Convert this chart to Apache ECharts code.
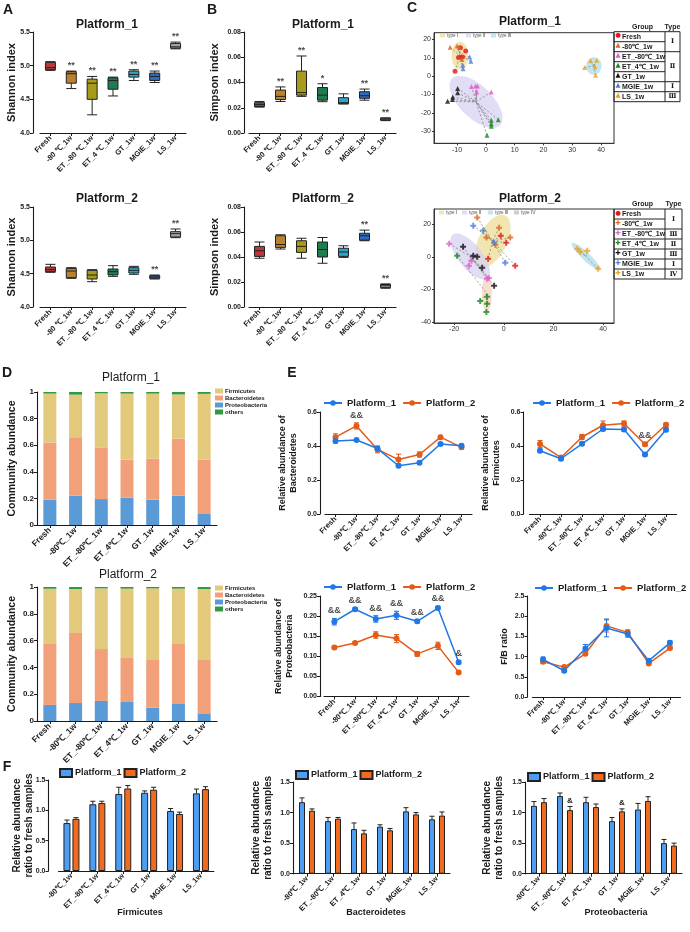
<!DOCTYPE html>
<html>
<head>
<meta charset="utf-8">
<script src="https://cdn.jsdelivr.net/npm/echarts@6/dist/echarts.min.js"></script>
<style>
html,body{margin:0;padding:0;background:#fff;}
.layer{position:absolute;left:0;top:0;width:690px;height:932px;}
</style>
</head>
<body>
<div id="ab" class="layer"></div>
<div id="c" class="layer"></div>
<div id="d" class="layer"></div>
<div id="e" class="layer"></div>
<div id="f" class="layer"></div>
<script>
// ---------- data ----------
const catsAB = ['Fresh', '-80 ℃_1w', 'ET_-80 ℃_1w', 'ET_4 ℃_1w', 'GT_1w', 'MGIE_1w', 'LS_1w'];
const cats = ['Fresh', '-80℃_1w', 'ET_-80℃_1w', 'ET_4℃_1w', 'GT_1w', 'MGIE_1w', 'LS_1w'];
const catsF = ['-80℃_1w', 'ET_-80℃_1w', 'ET_4℃_1w', 'GT_1w', 'MGIE_1w', 'LS_1w'];
const boxColors = ['#b8393b', '#b9822f', '#a89b1a', '#1e7d4f', '#2aa6c8', '#2e6bbd', '#a3a3a3'];

// box plots: [min, Q1, median, Q3, max]
const shannon1 = [[4.93, 4.94, 4.97, 5.05, 5.06], [4.66, 4.74, 4.88, 4.91, 4.92], [4.27, 4.50, 4.74, 4.80, 4.84],
  [4.55, 4.65, 4.78, 4.82, 4.83], [4.78, 4.83, 4.87, 4.92, 4.94], [4.75, 4.78, 4.84, 4.89, 4.92], [5.25, 5.26, 5.28, 5.33, 5.35]];
const shannon2 = [[4.52, 4.53, 4.56, 4.60, 4.64], [4.43, 4.44, 4.54, 4.58, 4.59], [4.38, 4.42, 4.48, 4.55, 4.56],
  [4.46, 4.48, 4.53, 4.57, 4.62], [4.49, 4.51, 4.55, 4.59, 4.61], [4.42, 4.43, 4.45, 4.47, 4.48], [5.04, 5.05, 5.10, 5.13, 5.17]];
const simpson1 = [[0.0205, 0.021, 0.0225, 0.024, 0.025], [0.025, 0.0265, 0.029, 0.034, 0.0365], [0.029, 0.030, 0.032, 0.049, 0.061],
  [0.0248, 0.026, 0.030, 0.036, 0.039], [0.023, 0.0232, 0.024, 0.028, 0.031], [0.026, 0.0275, 0.0295, 0.0327, 0.0348], [0.0098, 0.0102, 0.011, 0.0117, 0.012]];
const simpson2 = [[0.039, 0.0405, 0.045, 0.0485, 0.052], [0.0464, 0.0477, 0.050, 0.057, 0.0578], [0.039, 0.0437, 0.0485, 0.053, 0.055],
  [0.035, 0.040, 0.046, 0.052, 0.0556], [0.0397, 0.0405, 0.044, 0.047, 0.049], [0.053, 0.0535, 0.057, 0.059, 0.0615], [0.015, 0.0155, 0.017, 0.018, 0.0185]];
const shannonStars1 = ['', '**', '**', '**', '**', '**', '**'];
const shannonStars2 = ['', '', '', '', '', '**', '**'];
const simpsonStars1 = ['', '**', '**', '*', '', '**', '**'];
const simpsonStars2 = ['', '', '', '', '', '**', '**'];

// PCoA points
const pcoaGroups = ['Fresh', '-80℃_1w', 'ET_-80℃_1w', 'ET_4℃_1w', 'GT_1w', 'MGIE_1w', 'LS_1w'];
const pcoaColors = ['#e8141c', '#e0641e', '#e060d0', '#1a8a1a', '#111111', '#4a7ee0', '#f0a020'];
const c1Fresh = [[-8.8, 15.5], [-7, 13.7], [-8.1, 10.5], [-9.5, 10.2], [-10.7, 2.7]];
const c1M80 = [[-12.4, 15.7], [-10, 16.4], [-9.3, 15.7], [-8.3, 9.1]];
const c1ET80 = [[-5, -5.6], [-3.6, -5.3], [-2.9, -5.3], [-3.2, -8.6], [1.9, -8.6]];
const c1ET4 = [[1.9, -24], [1.9, -25.9], [1.9, -27.3], [4.3, -23.7], [0.4, -32.2]];
const c1GT = [[-9.8, -6.7], [-9.8, -9.1], [-11.5, -11.3], [-11.6, -12.7], [-13.3, -13.7]];
const c1MGIE = [[-5.6, 10.5], [-5.2, 8.2], [-8, 6], [-7.9, 4]];
const c1LS = [[34.3, 4.7], [36.4, 8.4], [38.5, 8.7], [37.9, 5.1], [38.1, 0.5]];
const c2Fresh = [[-6.3, -1.2], [1, 8.6], [4.6, -5.5], [-1.2, 12.9]];
const c2M80 = [[-10.7, 24], [-7, 11.7], [-1.9, 17.8], [2.6, 11.7], [-3.4, 7.4]];
const c2ET80 = [[-22, 8], [-13, -2.5], [-14, -5.5], [-6, -13], [-6.8, -13.5]];
const c2ET4 = [[-18.8, 0.6], [-6.7, -24.5], [-6.7, -28.8], [-9.5, -27], [-7, -33.7]];
const c2GT = [[-16.4, 6.1], [-12.3, 0.6], [-10.7, 0], [-8.7, -6.7], [-3.9, -17.8]];
const c2MGIE = [[-12.3, 19], [-8.3, 16], [-3.9, 8.6], [0.6, -3.7]];
const c2LS = [[29.6, 4.9], [30.8, 3.1], [33.6, 3.7], [38, -7.4]];
// ellipses: [cx, cy, ux, uy, vx, vy] in data units
const ell1 = [[-9, 11.2, 0, 7.6, 2.9, 0], [-3.4, -14, 8.3, -12.75, 4.0, 6.2], [37.5, 5.6, 0, 4.8, 2.7, 0]];
const ell2 = [[-4.45, 9.6, 5.05, 15.6, 5.1, -3.8], [-13.5, 0.2, 7.05, -13.3, 3.75, 4.6], [33.1, 0.2, 5.7, -8.2, 1.1, 1.8], [-6.8, -22.3, 0, 11.2, 2, 0]];
const ellColors = ['rgba(236,222,150,0.75)', 'rgba(214,210,242,0.75)', 'rgba(178,224,236,0.8)', 'rgba(246,212,196,0.8)'];
const link1 = [0, 0, 1, 1, 1, 0, 2];
const link2 = [0, 0, 1, 3, 1, 0, 2];
const types1 = [['Ⅰ', 0, 1], ['Ⅱ', 2, 4], ['Ⅰ', 5, 5], ['Ⅲ', 6, 6]];
const types2 = [['Ⅰ', 0, 1], ['Ⅲ', 2, 2], ['Ⅱ', 3, 3], ['Ⅲ', 4, 4], ['Ⅰ', 5, 5], ['Ⅳ', 6, 6]];

// community composition
const phyla = ['Firmicutes', 'Bacteroidetes', 'Proteobacteria', 'others'];
const phylaColors = ['#e3c97b', '#f2a07a', '#5a9ad6', '#2f9a3f'];
const d1Prot = [0.19, 0.22, 0.195, 0.205, 0.19, 0.22, 0.083];
const d1Bact = [0.43, 0.44, 0.385, 0.285, 0.31, 0.43, 0.407];
const d1Firm = [0.368, 0.32, 0.41, 0.498, 0.488, 0.332, 0.496];
const d1Other = [0.012, 0.02, 0.01, 0.012, 0.012, 0.018, 0.014];
const d2Prot = [0.12, 0.134, 0.15, 0.142, 0.10, 0.127, 0.057];
const d2Bact = [0.455, 0.523, 0.387, 0.328, 0.355, 0.453, 0.398];
const d2Firm = [0.412, 0.328, 0.453, 0.518, 0.535, 0.408, 0.53];
const d2Other = [0.013, 0.015, 0.01, 0.012, 0.01, 0.012, 0.015];

// relative abundance lines (mean, error)
const bactP1 = [0.430, 0.435, 0.385, 0.284, 0.302, 0.412, 0.402];
const bactP1e = [0.012, 0.008, 0.01, 0.01, 0.008, 0.008, 0.008];
const bactP2 = [0.452, 0.518, 0.380, 0.320, 0.350, 0.452, 0.392];
const bactP2e = [0.02, 0.018, 0.02, 0.032, 0.015, 0.01, 0.01];
const bactAnn = ['', '&&', '', '', '', '', ''];
const firmP1 = [0.372, 0.325, 0.413, 0.500, 0.497, 0.350, 0.495];
const firmP1e = [0.01, 0.01, 0.01, 0.01, 0.01, 0.008, 0.01];
const firmP2 = [0.412, 0.332, 0.453, 0.522, 0.532, 0.410, 0.525];
const firmP2e = [0.02, 0.008, 0.015, 0.025, 0.015, 0.01, 0.01];
const firmAnn = ['', '', '', '', '', '&&', ''];
const protP1 = [0.186, 0.217, 0.193, 0.202, 0.187, 0.220, 0.085];
const protP1e = [0.008, 0.003, 0.008, 0.01, 0.004, 0.004, 0.004];
const protP2 = [0.122, 0.133, 0.153, 0.144, 0.106, 0.126, 0.060];
const protP2e = [0.004, 0.003, 0.008, 0.01, 0.006, 0.009, 0.003];
const protAnn = ['&&', '&&', '&&', '&&', '&&', '&&', '&'];
const fbP1 = [0.93, 0.65, 1.20, 1.71, 1.56, 0.90, 1.34];
const fbP1e = [0.06, 0.03, 0.10, 0.22, 0.08, 0.03, 0.05];
const fbP2 = [0.87, 0.74, 1.07, 1.76, 1.60, 0.83, 1.21];
const fbP2e = [0.04, 0.02, 0.04, 0.15, 0.06, 0.03, 0.04];
const fbAnn = ['', '', '', '', '', '', ''];

// ratio to fresh samples
const rFirmP1 = [0.79, 1.10, 1.27, 1.29, 0.99, 1.28];
const rFirmP1e = [0.05, 0.05, 0.11, 0.03, 0.04, 0.07];
const rFirmP2 = [0.86, 1.12, 1.36, 1.34, 0.94, 1.35];
const rFirmP2e = [0.02, 0.03, 0.05, 0.04, 0.03, 0.04];
const rBactP1 = [1.17, 0.86, 0.73, 0.77, 1.02, 0.89];
const rBactP1e = [0.07, 0.06, 0.10, 0.03, 0.06, 0.05];
const rBactP2 = [1.03, 0.90, 0.66, 0.71, 0.97, 0.95];
const rBactP2e = [0.03, 0.02, 0.05, 0.03, 0.03, 0.06];
const rProtP1 = [1.11, 1.27, 1.17, 0.86, 1.05, 0.50];
const rProtP1e = [0.07, 0.05, 0.08, 0.06, 0.10, 0.06];
const rProtP2 = [1.17, 1.04, 1.09, 1.02, 1.19, 0.46];
const rProtP2e = [0.06, 0.06, 0.05, 0.04, 0.07, 0.04];
const rProtAnn = ['', '&', '', '&', '', ''];
const noAnn = ['', '', '', '', '', ''];

// ---------- helpers ----------
const FONT = '"Liberation Sans", Arial, sans-serif';
const INK = '#1a1a1a';
const BLUE = '#1f78e6', ORANGE = '#e45a17';
const BAR1 = '#4d9ef2', BAR2 = '#f36a1f';

function txt(x, y, text, size, o) {
  o = o || {};
  return {type: 'text', x: x, y: y, silent: true, style: {text: text, fontSize: size, fontFamily: o.family || FONT,
    fontWeight: o.weight || 'bold', fill: o.color || INK, align: o.align || 'center', verticalAlign: 'middle',
    textAlign: o.align || 'center', textVerticalAlign: 'middle'}};
}
function hline(x1, y1, x2, y2, w) {
  return {type: 'line', silent: true, shape: {x1: x1, y1: y1, x2: x2, y2: y2}, style: {stroke: '#222', lineWidth: w || 1}};
}
function catAxis(gi, data, fs) {
  return {gridIndex: gi, type: 'category', data: data,
    axisLine: {show: true, lineStyle: {color: INK, width: 1.1}},
    axisTick: {show: true, alignWithLabel: true, length: 3, lineStyle: {color: INK}},
    axisLabel: {interval: 0, rotate: 45, fontSize: fs, fontWeight: 'bold', color: INK, margin: 4, fontFamily: FONT},
    splitLine: {show: false}};
}
function valAxis(gi, o) {
  return {gridIndex: gi, type: 'value', min: o.min, max: o.max, interval: o.step, offset: o.offset || 0,
    name: o.name, nameLocation: 'middle', nameGap: o.gap, nameMoveOverlap: false,
    nameTextStyle: {fontSize: o.nameSize, fontWeight: 'bold', color: INK, fontFamily: FONT, lineHeight: o.nameSize + 2},
    axisLine: {show: true, lineStyle: {color: INK, width: 1.1}},
    axisTick: {show: true, length: 3, lineStyle: {color: INK}},
    axisLabel: {fontSize: o.labelSize || 7, fontWeight: 'bold', color: INK, margin: 3, fontFamily: FONT, formatter: o.fmt},
    splitLine: {show: false}};
}
function gridAt(l, t, w, h) {
  return {left: l, top: t, width: w, height: h, outerBoundsMode: 'none', containLabel: false};
}

// ---------- A / B : box plots ----------
(function () {
  const grid = [], xAxis = [], yAxis = [], series = [];
  function boxPanel(gi, box, o, data, stars) {
    grid.push(gridAt(box[0], box[1], box[2], box[3]));
    xAxis.push(catAxis(gi, catsAB, 7.5));
    yAxis.push(valAxis(gi, o));
    series.push({type: 'boxplot', xAxisIndex: gi, yAxisIndex: gi, boxWidth: [10, 10],
      itemStyle: {borderColor: '#222', borderWidth: 1},
      data: data.map((d, i) => ({value: d, itemStyle: {color: boxColors[i]}}))});
    series.push({type: 'scatter', xAxisIndex: gi, yAxisIndex: gi, symbolSize: 0, silent: true,
      data: data.map((d, i) => [i, d[4]]),
      label: {show: true, position: 'top', distance: 1, fontSize: 9, fontWeight: 'bold', color: INK, fontFamily: FONT,
        formatter: p => stars[p.dataIndex]}});
  }
  const sh = {min: 4, max: 5.5, step: 0.5, offset: 7, name: 'Shannon index', gap: 15, nameSize: 11, fmt: v => v.toFixed(1)};
  const si = {min: 0, max: 0.08, step: 0.02, offset: 5, name: 'Simpson index', gap: 23, nameSize: 11, fmt: v => v.toFixed(2)};
  boxPanel(0, [40, 32, 146, 101], sh, shannon1, shannonStars1);
  boxPanel(1, [40, 207, 146, 100], sh, shannon2, shannonStars2);
  boxPanel(2, [249, 32, 147, 101], si, simpson1, simpsonStars1);
  boxPanel(3, [249, 207, 147, 100], si, simpson2, simpsonStars2);
  echarts.init(document.getElementById('ab')).setOption({
    animation: false, textStyle: {fontFamily: FONT}, grid, xAxis, yAxis, series,
    graphic: [txt(107, 25, 'Platform_1', 12), txt(107, 199, 'Platform_2', 12),
      txt(323, 25, 'Platform_1', 12), txt(323, 199, 'Platform_2', 12)]
  });
})();

// ---------- C : PCoA ----------
(function () {
  const grid = [], xAxis = [], yAxis = [], series = [], graphic = [];
  const plus = 'path://M2,0h2v2h2v2h-2v2h-2v-2h-2v-2h2z';
  function axisC(gi, min, max, split, step) {
    return {gridIndex: gi, type: 'value', min: min, max: max, splitNumber: split,
      axisLine: {show: true, onZero: false, lineStyle: {color: '#333', width: 1}},
      axisTick: {show: true, length: 2, lineStyle: {color: '#333'}},
      axisLabel: {fontSize: 7, color: '#333', margin: 3, fontFamily: FONT, showMinLabel: false, showMaxLabel: false,
        formatter: v => (Math.abs(v % step) < 1e-6 ? String(v) : '')},
      splitLine: {show: false}};
  }
  function pcoa(gi, box, xr, yr, xs, ys, xstep, ystep, pts, ells, links, plusMark) {
    grid.push(Object.assign(gridAt(box[0], box[1], box[2], box[3]), {show: true, borderColor: '#333', borderWidth: 1}));
    xAxis.push(axisC(gi, xr[0], xr[1], xs, xstep));
    yAxis.push(axisC(gi, yr[0], yr[1], ys, ystep));
    series.push({type: 'custom', xAxisIndex: gi, yAxisIndex: gi, silent: true, z: 1, data: ells, encode: {x: 0, y: 1},
      renderItem: (p, api) => {
        const e = ells[p.dataIndex], poly = [];
        for (let k = 0; k < 72; k++) {
          const t = k / 72 * Math.PI * 2;
          poly.push(api.coord([e[0] + e[2] * Math.cos(t) + e[4] * Math.sin(t), e[1] + e[3] * Math.cos(t) + e[5] * Math.sin(t)]));
        }
        return {type: 'polygon', shape: {points: poly}, style: {fill: ellColors[p.dataIndex], stroke: null}};
      }});
    const spokes = [];
    pts.forEach((g, gi2) => {
      const e = ells[links[gi2]];
      g.forEach(pt => spokes.push([pt[0], pt[1], e[0], e[1]]));
    });
    series.push({type: 'custom', xAxisIndex: gi, yAxisIndex: gi, silent: true, z: 2, data: spokes, encode: {x: 0, y: 1},
      renderItem: (p, api) => {
        const a = api.coord([api.value(0), api.value(1)]), b = api.coord([api.value(2), api.value(3)]);
        return {type: 'line', shape: {x1: a[0], y1: a[1], x2: b[0], y2: b[1]}, style: {stroke: '#777', lineWidth: 0.7, lineDash: [2, 2]}};
      }});
    pts.forEach((g, k) => {
      series.push({type: 'scatter', xAxisIndex: gi, yAxisIndex: gi, z: 3, name: pcoaGroups[k], data: g,
        symbol: plusMark ? plus : (k === 0 ? 'circle' : 'triangle'), symbolSize: plusMark ? 6 : 5,
        itemStyle: {color: pcoaColors[k]}});
    });
  }
  pcoa(0, [434, 32.7, 180, 110.6], [-18, 44.5], [-36.6, 23.7], 5, 5, 10, 10,
    [c1Fresh, c1M80, c1ET80, c1ET4, c1GT, c1MGIE, c1LS], ell1, link1, false);
  pcoa(1, [434, 209, 180, 114], [-28.1, 44.4], [-40.5, 29.2], 3, 3, 20, 20,
    [c2Fresh, c2M80, c2ET80, c2ET4, c2GT, c2MGIE, c2LS], ell2, link2, true);

  function table(x0, y0, wG, wT, rh, glyphs, spans) {
    const h = rh * pcoaGroups.length;
    graphic.push(txt(x0 + wG / 2 + 3, y0 - 5, 'Group', 7));
    graphic.push(txt(x0 + wG + wT / 2, y0 - 5, 'Type', 7));
    graphic.push({type: 'rect', silent: true, shape: {x: x0, y: y0, width: wG + wT, height: h}, style: {fill: 'none', stroke: '#222', lineWidth: 1}});
    graphic.push(hline(x0 + wG, y0, x0 + wG, y0 + h));
    pcoaGroups.forEach((n, i) => {
      const cy = y0 + i * rh + rh / 2;
      if (i > 0) graphic.push(hline(x0, y0 + i * rh, x0 + wG, y0 + i * rh));
      graphic.push(txt(x0 + 4, cy - 1, glyphs[i], 6.5, {color: pcoaColors[i], family: 'DejaVu Sans'}));
      graphic.push(txt(x0 + 8, cy, n, 7, {align: 'left'}));
    });
    spans.forEach(s => {
      if (s[1] > 0) graphic.push(hline(x0 + wG, y0 + s[1] * rh, x0 + wG + wT, y0 + s[1] * rh));
      graphic.push(txt(x0 + wG + wT / 2, y0 + (s[1] + s[2] + 1) / 2 * rh, s[0], 6.5, {family: '"DejaVu Serif", serif'}));
    });
  }
  table(614, 31.7, 51, 15, 10, ['●', '▲', '▲', '▲', '▲', '▲', '▲'], types1);
  table(614, 209, 51, 17, 10, ['●', '✚', '✚', '✚', '✚', '✚', '✚'], types2);

  function typeKey(x, y, labels, colors) {
    labels.forEach((l, i) => {
      graphic.push({type: 'rect', silent: true, shape: {x: x[i], y: y - 2, width: 5, height: 4}, style: {fill: colors[i]}});
      graphic.push(txt(x[i] + 7, y, l, 4.5, {align: 'left', weight: 'normal', color: '#555'}));
    });
  }
  typeKey([440, 466, 491], 35.5, ['type Ⅰ', 'type Ⅱ', 'type Ⅲ'], [ellColors[0], ellColors[1], ellColors[2]]);
  typeKey([439, 462, 488, 514], 212.5, ['type Ⅰ', 'type Ⅱ', 'type Ⅲ', 'type Ⅳ'], [ellColors[0], ellColors[1], ellColors[2], '#cfcfcf']);
  graphic.push(txt(530, 22, 'Platform_1', 12), txt(530, 199, 'Platform_2', 12));

  echarts.init(document.getElementById('c')).setOption({
    animation: false, textStyle: {fontFamily: FONT}, grid, xAxis, yAxis, series, graphic
  });
})();

// ---------- D : community composition ----------
(function () {
  const grid = [], xAxis = [], yAxis = [], series = [], legend = [];
  const fmtD = v => (v === 0 || v === 1 ? String(v) : v.toFixed(1));
  function comp(gi, box, prot, bact, firm, other, legTop) {
    grid.push(gridAt(box[0], box[1], box[2], box[3]));
    xAxis.push(catAxis(gi, cats, 8.5));
    yAxis.push(valAxis(gi, {min: 0, max: 1, step: 0.2, name: 'Community abundance', gap: 19, nameSize: 10.5, labelSize: 8, fmt: fmtD}));
    [[prot, 2], [bact, 1], [firm, 0], [other, 3]].forEach(s => {
      series.push({type: 'bar', name: phyla[s[1]], xAxisIndex: gi, yAxisIndex: gi, stack: 'p' + gi, barWidth: 13,
        data: s[0], itemStyle: {color: phylaColors[s[1]]}});
    });
    legend.push({left: 215, top: legTop, orient: 'vertical', icon: 'rect', itemWidth: 8, itemHeight: 5, itemGap: 1, padding: 0,
      data: phyla, textStyle: {fontSize: 6, color: INK, fontWeight: 'bold', fontFamily: FONT, padding: [0, 0, 0, -3]}});
  }
  comp(0, [37, 392, 180, 133], d1Prot, d1Bact, d1Firm, d1Other, 388);
  comp(1, [37, 587, 180, 134], d2Prot, d2Bact, d2Firm, d2Other, 585);
  echarts.init(document.getElementById('d')).setOption({
    animation: false, textStyle: {fontFamily: FONT}, grid, xAxis, yAxis, series, legend,
    graphic: [txt(131, 378, 'Platform_1', 12, {weight: 'normal'}), txt(128, 575, 'Platform_2', 12, {weight: 'normal'})]
  });
})();

// ---------- E : relative abundance lines ----------
(function () {
  const grid = [], xAxis = [], yAxis = [], series = [], legend = [];
  function errBar(color) {
    return (p, api) => {
      const i = api.value(0), m = api.value(1), e = api.value(2);
      const t = api.coord([i, m + e]), b = api.coord([i, m - e]);
      const st = {stroke: color, lineWidth: 1.1};
      return {type: 'group', children: [
        {type: 'line', shape: {x1: t[0], y1: t[1], x2: b[0], y2: b[1]}, style: st},
        {type: 'line', shape: {x1: t[0] - 2.5, y1: t[1], x2: t[0] + 2.5, y2: t[1]}, style: st},
        {type: 'line', shape: {x1: b[0] - 2.5, y1: b[1], x2: b[0] + 2.5, y2: b[1]}, style: st}]};
    };
  }
  function linePanel(gi, box, o, p1, e1, p2, e2, ann, leg) {
    grid.push(gridAt(box[0], box[1], box[2], box[3]));
    xAxis.push(catAxis(gi, cats, 7.5));
    yAxis.push(valAxis(gi, o));
    [[p2, e2, ORANGE, 'Platform_2'], [p1, e1, BLUE, 'Platform_1']].forEach(s => {
      series.push({type: 'custom', xAxisIndex: gi, yAxisIndex: gi, silent: true, z: 2, encode: {x: 0, y: 1},
        data: s[0].map((v, i) => [i, v, s[1][i]]), renderItem: errBar(s[2])});
      series.push({type: 'line', name: s[3], xAxisIndex: gi, yAxisIndex: gi, z: 3, data: s[0], symbol: 'circle', symbolSize: 6,
        lineStyle: {color: s[2], width: 1.5}, itemStyle: {color: s[2]}});
    });
    series.push({type: 'scatter', xAxisIndex: gi, yAxisIndex: gi, symbolSize: 0, silent: true, z: 4,
      data: p1.map((v, i) => [i, Math.max(v + e1[i], p2[i] + e2[i])]),
      label: {show: true, position: 'top', distance: 3, fontSize: 9, fontWeight: 'bold', color: INK, fontFamily: FONT,
        formatter: p => ann[p.dataIndex]}});
    legend.push({left: leg[0], top: leg[1], itemWidth: 18, itemHeight: 7, itemGap: 6, padding: 0,
      data: ['Platform_1', 'Platform_2'], textStyle: {fontSize: 9.5, fontWeight: 'bold', color: INK, fontFamily: FONT}});
  }
  const f1 = v => v.toFixed(1), f2 = v => v.toFixed(2);
  linePanel(0, [325, 412, 147, 102], {min: 0, max: 0.6, step: 0.2, offset: 5, name: 'Relative abundance of\nBacteroidetes', gap: 21, nameSize: 9, fmt: f1},
    bactP1, bactP1e, bactP2, bactP2e, bactAnn, [323, 398]);
  linePanel(1, [529.5, 412, 147, 102], {min: 0, max: 0.6, step: 0.2, offset: 6, name: 'Relative abundance of\nFirmicutes', gap: 21, nameSize: 9, fmt: f1},
    firmP1, firmP1e, firmP2, firmP2e, firmAnn, [532, 398]);
  linePanel(2, [324, 596, 145, 100.5], {min: 0, max: 0.25, step: 0.05, offset: 4, name: 'Relative abundance of\nProteobacteria', gap: 25, nameSize: 9, fmt: f2},
    protP1, protP1e, protP2, protP2e, protAnn, [323, 582]);
  linePanel(3, [532.5, 596, 148, 101], {min: 0, max: 2.5, step: 0.5, offset: 5, name: 'F/B ratio', gap: 17, nameSize: 9, fmt: f1},
    fbP1, fbP1e, fbP2, fbP2e, fbAnn, [534, 583]);
  echarts.init(document.getElementById('e')).setOption({
    animation: false, textStyle: {fontFamily: FONT}, grid, xAxis, yAxis, series, legend
  });
})();

// ---------- F : ratio to fresh ----------
(function () {
  const grid = [], xAxis = [], yAxis = [], series = [], legend = [];
  function barErr(off, ann) {
    return (p, api) => {
      const i = api.value(0), m = api.value(1), e = api.value(2);
      const b = api.coord([i, m]), t = api.coord([i, m + e]);
      const x = b[0] + off;
      const st = {stroke: '#222', lineWidth: 1};
      const ch = [{type: 'line', shape: {x1: x, y1: b[1], x2: x, y2: t[1]}, style: st},
        {type: 'line', shape: {x1: x - 2.5, y1: t[1], x2: x + 2.5, y2: t[1]}, style: st}];
      if (ann && ann[p.dataIndex]) {
        ch.push({type: 'text', style: {text: ann[p.dataIndex], x: x, y: t[1] - 2, fontSize: 8, fontWeight: 'bold', fill: INK,
          fontFamily: FONT, align: 'center', verticalAlign: 'bottom', textAlign: 'center', textVerticalAlign: 'bottom'}});
      }
      return {type: 'group', children: ch};
    };
  }
  function barPanel(gi, box, o, p1, e1, p2, e2, ann, leg, bw, gap) {
    grid.push(gridAt(box[0], box[1], box[2], box[3]));
    xAxis.push(catAxis(gi, catsF, 7.5));
    yAxis.push(valAxis(gi, o));
    const off = (bw + gap) / 2;
    [[p1, e1, BAR1, 'Platform_1', -off, null], [p2, e2, BAR2, 'Platform_2', off, ann]].forEach(s => {
      series.push({type: 'bar', name: s[3], xAxisIndex: gi, yAxisIndex: gi, data: s[0], barWidth: bw,
        barGap: (gap / bw * 100) + '%', itemStyle: {color: s[2], borderColor: '#222', borderWidth: 1}});
      series.push({type: 'custom', xAxisIndex: gi, yAxisIndex: gi, silent: true, z: 3, encode: {x: 0, y: 1},
        data: s[0].map((v, i) => [i, v, s[1][i]]), renderItem: barErr(s[4], s[5])});
    });
    legend.push({left: leg[0], top: leg[1], icon: 'rect', itemWidth: 12, itemHeight: 8, itemGap: 2, padding: 0,
      data: ['Platform_1', 'Platform_2'], textStyle: {fontSize: 9, fontWeight: 'bold', color: INK, fontFamily: FONT, padding: [0, 0, 0, -2]}});
  }
  const yo = {min: 0, max: 1.5, step: 0.5, name: 'Relative abundance\nratio to fresh samples', nameSize: 10, fmt: v => v.toFixed(1)};
  barPanel(0, [58.5, 780, 155.4, 91], Object.assign({offset: 10, gap: 13}, yo), rFirmP1, rFirmP1e, rFirmP2, rFirmP2e, noAnn, [59, 768], 7, 2);
  barPanel(1, [294, 782, 156, 91.7], Object.assign({offset: 1, gap: 19}, yo), rBactP1, rBactP1e, rBactP2, rBactP2e, noAnn, [295, 770], 6, 4);
  barPanel(2, [526, 782, 156, 91.7], Object.assign({offset: 1, gap: 20}, yo), rProtP1, rProtP1e, rProtP2, rProtP2e, rProtAnn, [527, 772], 6, 4);
  const letters = [txt(8, 10, 'A', 14), txt(212, 10, 'B', 14), txt(412, 8, 'C', 14), txt(7, 373, 'D', 14),
    txt(292, 373, 'E', 14), txt(7, 767, 'F', 14)];
  const names = [txt(140, 913, 'Firmicutes', 9), txt(376, 913, 'Bacteroidetes', 9), txt(616, 913, 'Proteobacteria', 9)];
  echarts.init(document.getElementById('f')).setOption({
    animation: false, textStyle: {fontFamily: FONT}, grid, xAxis, yAxis, series, legend,
    graphic: letters.concat(names)
  });
})();
</script>
</body>
</html>
